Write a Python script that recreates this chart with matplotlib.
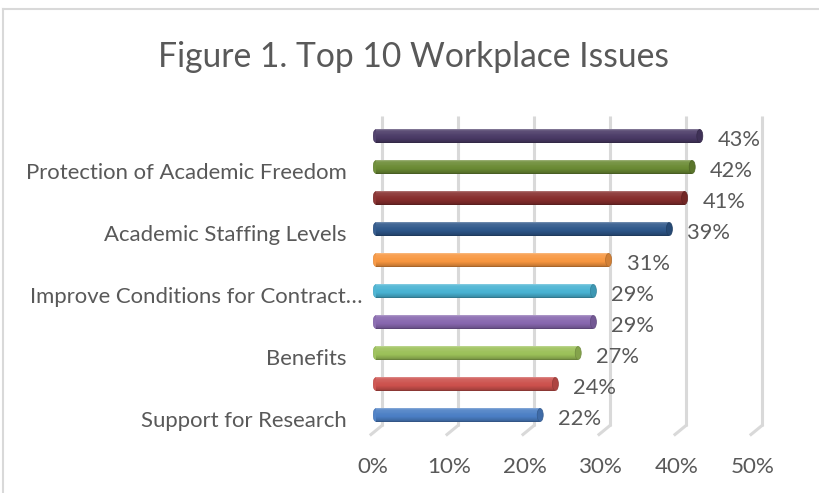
import matplotlib
matplotlib.use("Agg")
import matplotlib.pyplot as plt
from matplotlib import transforms
from matplotlib.patches import Ellipse
from matplotlib.lines import Line2D
from matplotlib.textpath import TextPath
from matplotlib.font_manager import FontProperties
import matplotlib.colors as mcolors
import numpy as np

# ---------------- data ----------------
title = "Figure 1. Top 10 Workplace Issues"
# bottom -> top
tick_labels = ["Support for Research", "", "Benefits", "",
               "Improve Conditions for Contract\u2026", "", "Academic Staffing Levels",
               "", "Protection of Academic Freedom", ""]
values = [22, 24, 27, 29, 29, 31, 39, 41, 42, 43]
value_labels = ["22%", "24%", "27%", "29%", "29%", "31%", "39%", "41%", "42%", "43%"]
bar_colors = ["#4A7EC4", "#CC504C", "#9BC058", "#8767AE", "#48B2D2",
              "#F7963F", "#2D5689", "#862D2C", "#6A8A33", "#4A3A66"]
x_ticks = [0, 10, 20, 30, 40, 50]
x_tick_labels = ["0%", "10%", "20%", "30%", "40%", "50%"]

# ---------------- layout ----------------
W, H, DPI = 820, 493, 100
FAMILY = "Lato"
TXT = "#595959"
GRID = "#D9D9D9"

fig = plt.figure(figsize=(W / DPI, H / DPI), dpi=DPI)
fig.patch.set_facecolor("white")

def fit_size(text, target_px):
    fp = FontProperties(family=FAMILY, size=100)
    w100 = TextPath((0, 0), text, size=100, prop=fp).get_extents().width
    return target_px * 100 * 72 / (w100 * DPI)

ax_left, ax_right = 373, 753
ax_top, ax_bottom = 120.5, 430.5
ax = fig.add_axes([ax_left / W, (H - ax_bottom) / H,
                   (ax_right - ax_left) / W, (ax_bottom - ax_top) / H])
ax.set_xlim(0, 50)
ax.set_ylim(-0.5, 9.5)
ax.axis("off")

def px(dx, dy):
    return transforms.ScaledTranslation(dx / DPI, dy / DPI, fig.dpi_scale_trans)

# border of chart area (partially visible)
fig.add_artist(Line2D([3 / W, 1], [1 - 9 / H, 1 - 9 / H], transform=fig.transFigure,
                      color=GRID, lw=1.5))
fig.add_artist(Line2D([3 / W, 3 / W], [0, 1 - 9 / H], transform=fig.transFigure,
                      color=GRID, lw=1.5))

# 3D gridlines (back wall) with floor feet
gshift = ax.transData + px(9, 5)
inv = fig.transFigure.inverted()
for xt in x_ticks:
    ax.plot([xt, xt], [-0.5, 9.5], transform=gshift, color=GRID, lw=2.2,
            clip_on=False, zorder=0, solid_capstyle="butt")
    p0 = gshift.transform((xt, -0.5))
    p1 = (ax.transData + px(-2, -4)).transform((xt, -0.5))
    a, b = inv.transform(p0), inv.transform(p1)
    fig.add_artist(Line2D([a[0], b[0]], [a[1], b[1]], transform=fig.transFigure,
                          color=GRID, lw=2.2, zorder=0))

# cylinder-like bars
bh = 0.42
N = 16
def shade(c, f):
    r, g, b = mcolors.to_rgb(c)
    if f >= 1:
        t = f - 1
        return (r + (1 - r) * t, g + (1 - g) * t, b + (1 - b) * t)
    return (r * f, g * f, b * f)

prof_t = np.array([0.0, 0.1, 0.3, 0.6, 0.85, 0.95, 1.0])
prof_f = np.array([0.62, 0.82, 0.97, 1.04, 1.1, 1.2, 1.45])
cap_w = 6 / 7.6
for i, (v, c) in enumerate(zip(values, bar_colors)):
    ax.add_patch(Ellipse((0.4, i), cap_w, bh, facecolor=shade(c, 1.05),
                         edgecolor=shade(c, 0.9), lw=0.4, zorder=2))
    for k in range(N):
        t = (k + 0.5) / N
        f = np.interp(t, prof_t, prof_f)
        ax.barh(i - bh / 2 + (k + 0.5) * bh / N, v - 0.4, left=0.4,
                height=bh / N * 1.06, color=shade(c, f), lw=0, zorder=3)
    ax.add_patch(Ellipse((v, i), cap_w, bh, facecolor=shade(c, 0.85),
                         edgecolor=shade(c, 0.72), lw=0.5, zorder=4))
    ax.text(v, i, value_labels[i], transform=ax.transData + px(18, -10),
            ha="left", va="baseline", color=TXT, family=FAMILY,
            fontsize=fit_size("22%", 41))

# category labels
cat_size = fit_size("Protection of Academic Freedom", 318)
ylab = transforms.blended_transform_factory(ax.transAxes, ax.transData)
for i, lab in enumerate(tick_labels):
    if not lab:
        continue
    dx = -26
    if lab.endswith("\u2026"):
        dx = -10
    ax.text(0, i, lab, transform=ylab + px(dx, -12), ha="right", va="baseline",
            color=TXT, family=FAMILY, fontsize=cat_size)

# x tick labels
xlab = transforms.blended_transform_factory(ax.transData, fig.transFigure)
tsize = fit_size("10%", 41)
for xt, lab in zip(x_ticks, x_tick_labels):
    ax.text(xt, 20 / H, lab, transform=xlab, ha="center", va="baseline",
            color=TXT, family=FAMILY, fontsize=tsize, clip_on=False)

# title
fig.text(413.5 / W, (H - 67) / H, title, ha="center", va="baseline",
         color=TXT, family=FAMILY, fontsize=fit_size(title, 507))

fig.savefig("out.png", dpi=DPI, facecolor="white")
